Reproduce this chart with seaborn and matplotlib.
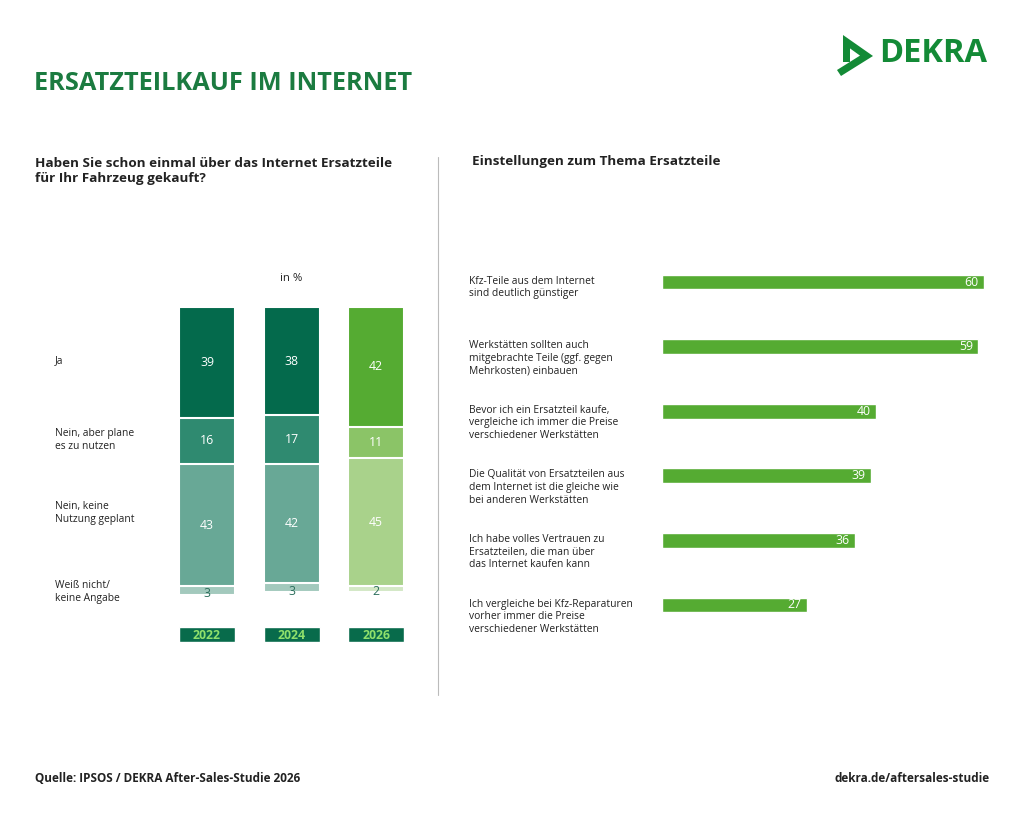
import numpy as np
import pandas as pd
import matplotlib
matplotlib.use("Agg")
import matplotlib.pyplot as plt
import seaborn as sns
from matplotlib.lines import Line2D
from matplotlib.patches import Polygon

# data
years = ["2022", "2024", "2026"]
answers = ["Ja", "Nein, aber plane\nes zu nutzen", "Nein, keine\nNutzung geplant",
           "Weiß nicht/\nkeine Angabe"]
ja = [39, 38, 42]
nein_plane = [16, 17, 11]
nein_keine = [43, 42, 45]
weiss_nicht = [3, 3, 2]

statements = [
    "Kfz-Teile aus dem Internet\nsind deutlich günstiger",
    "Werkstätten sollten auch\nmitgebrachte Teile (ggf. gegen\nMehrkosten) einbauen",
    "Bevor ich ein Ersatzteil kaufe,\nvergleiche ich immer die Preise\nverschiedener Werkstätten",
    "Die Qualität von Ersatzteilen aus\ndem Internet ist die gleiche wie\nbei anderen Werkstätten",
    "Ich habe volles Vertrauen zu\nErsatzteilen, die man über\ndas Internet kaufen kann",
    "Ich vergleiche bei Kfz-Reparaturen\nvorher immer die Preise\nverschiedener Werkstätten",
]
agree = [60, 59, 40, 39, 36, 27]

# colours per segment (rows) and year (cols)
seg_colors = [
    ["#046a4c", "#046a4c", "#55ab32"],
    ["#2f8a70", "#2f8a70", "#8bc467"],
    ["#68a896", "#68a896", "#a9d28b"],
    ["#a3c9bd", "#a3c9bd", "#d3e8c5"],
]
green_title = "#1b7b40"
bar_green = "#55ab32"
logo_green = "#138a36"
text_dark = "#222222"

sns.set_theme(style="white")
plt.rcParams["font.family"] = ["Open Sans", "DejaVu Sans"]

W, H = 1024, 816
fig = plt.figure(figsize=(W / 100, H / 100), dpi=100)
fig.patch.set_facecolor("white")


def px_axes(x0, y0, x1, y1):
    # y0 = top pixel, y1 = bottom pixel
    return fig.add_axes([x0 / W, 1 - y1 / H, (x1 - x0) / W, (y1 - y0) / H])


def ftext(x, y, s, **kw):
    fig.text(x / W, 1 - y / H, s, **kw)


def fpoly(pts, color):
    fig.add_artist(Polygon([(x / W, 1 - y / H) for x, y in pts], closed=True,
                           facecolor=color, edgecolor="none", transform=fig.transFigure))


# --- header ---
ftext(34, 83, "ERSATZTEILKAUF IM INTERNET", fontsize=18.3, fontweight="bold",
      color=green_title, va="center")
ftext(35, 171, "Haben Sie schon einmal über das Internet Ersatzteile\nfür Ihr Fahrzeug gekauft?",
      fontsize=9.7, fontweight="bold", color=text_dark, va="center", linespacing=1.2)
ftext(472, 162, "Einstellungen zum Thema Ersatzteile", fontsize=9.7,
      fontweight="bold", color=text_dark, va="center")

# logo
ftext(879, 54, "DEKRA", fontsize=23.5, fontweight="bold", color=logo_green, va="center")
fpoly([(843, 35), (873, 56), (841, 76), (837, 70), (860, 55.6), (850, 48.4),
       (850, 62), (843, 62)], logo_green)

# divider
fig.add_artist(Line2D([438 / W, 438 / W], [1 - 157 / H, 1 - 695 / H], color="#bbbbbb", linewidth=0.8))

# --- left: stacked bars ---
ax1 = px_axes(165, 300, 420, 600)
segments = np.array([ja, nein_plane, nein_keine, weiss_nicht])
cum = segments.cumsum(axis=0)
for k in range(3, -1, -1):
    df = pd.DataFrame({"Jahr": years, "Wert": cum[k]})
    sns.barplot(data=df, x="Jahr", y="Wert", hue="Jahr", palette=seg_colors[k],
                legend=False, width=0.663, edgecolor="white", linewidth=1.5,
                saturation=1, ax=ax1)
px_per = 2.85
ax1.set_ylim((600 - 307) / px_per, -(307 - 300) / px_per)
ax1.set_xlim(-0.497, 2.52)
ax1.axis("off")

for i in range(3):
    for k in range(4):
        start = cum[k][i] - segments[k][i]
        if k < 3:
            ax1.text(i, start + segments[k][i] / 2, str(segments[k][i]), ha="center",
                     va="center", color="white", fontsize=8.8)
        else:
            ax1.text(i, cum[k][i] - 0.3, str(segments[k][i]), ha="center", va="center",
                     color="#2c6e5c", fontsize=8.8)

ax1.text(1, -10.0, "in %", ha="center", va="center", fontsize=8.2, color=text_dark)

# row labels
label_y = [361, 440, 513, 592]
for lab, y in zip(answers, label_y):
    ftext(55, y, lab, fontsize=7.4, color=text_dark, va="center", linespacing=1.2)

# year boxes
ax_y = px_axes(165, 627, 420, 642)
df_y = pd.DataFrame({"Jahr": years, "v": [1, 1, 1]})
sns.barplot(data=df_y, x="Jahr", y="v", hue="Jahr", palette=["#086b4b"] * 3, legend=False,
            width=0.663, saturation=1, ax=ax_y)
ax_y.set_xlim(-0.497, 2.52)
ax_y.set_ylim(0, 1)
ax_y.axis("off")
for i, yr in enumerate(years):
    ax_y.text(i, 0.45, yr, ha="center", va="center", color="#8fe06b",
              fontsize=8.8, fontweight="bold")

# --- right: horizontal bars ---
ax2 = px_axes(662, 250, 1000, 640)
df2 = pd.DataFrame({"Aussage": statements, "Anteil": agree})
sns.barplot(data=df2, y="Aussage", x="Anteil", color=bar_green, width=0.232,
            orient="h", ax=ax2, saturation=1)
sp = 64.6
ax2.set_ylim((640 - 282) / sp, -(282 - 250) / sp)
ax2.set_xlim(0, 338 / 5.36)
ax2.axis("off")
for i, (s, v) in enumerate(zip(statements, agree)):
    ax2.text(v - 1.0, i, str(v), ha="right", va="center", color="white", fontsize=8.8)
    ax2.text((469 - 662) / 338, i - 0.1, s, transform=ax2.get_yaxis_transform(),
             ha="left", va="top", fontsize=7.4, color=text_dark, linespacing=1.2)

# --- footer ---
ftext(35, 778, "Quelle: IPSOS / DEKRA After-Sales-Studie 2026", fontsize=8.5,
      fontweight="bold", color=text_dark, va="center")
ftext(990, 778, "dekra.de/aftersales-studie", fontsize=8.5, fontweight="bold",
      color=text_dark, va="center", ha="right")

fig.savefig("out.png", dpi=100, facecolor="white")
